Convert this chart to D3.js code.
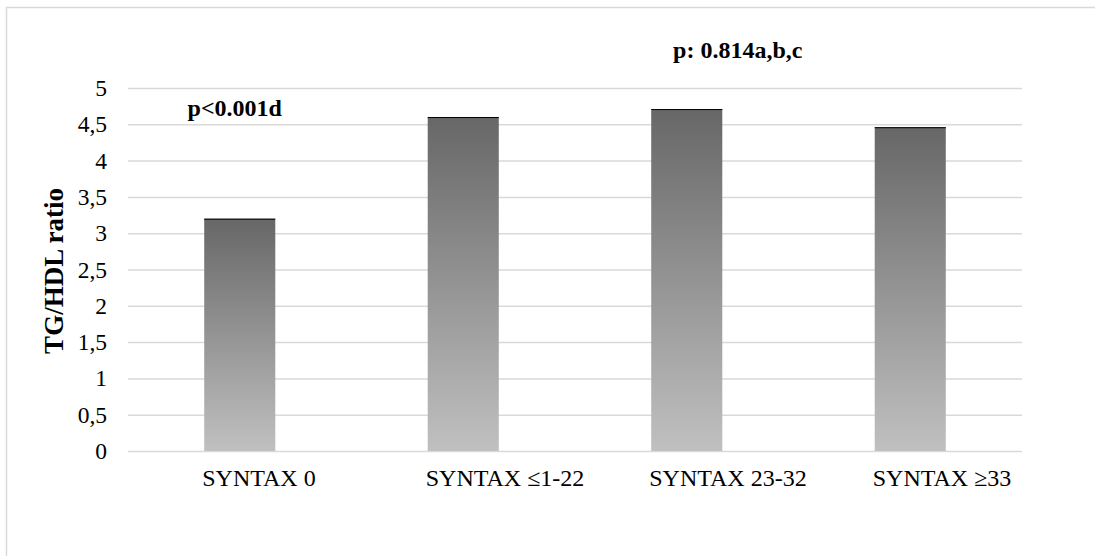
<!DOCTYPE html>
<html><head><meta charset="utf-8">
<script src="https://cdn.jsdelivr.net/npm/d3@7"></script>
<style>body{margin:0;background:#fff}svg{display:block}</style>
</head><body>
<script>
const categories = ["SYNTAX 0", "SYNTAX \u22641-22", "SYNTAX 23-32", "SYNTAX \u226533"];
const values = [3.2, 4.6, 4.71, 4.46];
const yTicks = [0, 0.5, 1, 1.5, 2, 2.5, 3, 3.5, 4, 4.5, 5];
const yTickLabels = ["0", "0,5", "1", "1,5", "2", "2,5", "3", "3,5", "4", "4,5", "5"];
const annotations = [
  {text: "p<0.001d", cat: 0, value: 4.62, dx: -5},
  {text: "p: 0.814a,b,c", cat: 2, value: 5.41, dx: 51}
];
const yTitle = "TG/HDL ratio";

const W = 1095, H = 556;
const margin = {left: 128, right: 1022, top: 88, bottom: 451};
const svg = d3.select("body").append("svg").attr("width", W).attr("height", H);
const font = "Liberation Serif";

svg.append("rect").attr("x", 6.5).attr("y", 7.5).attr("width", 1200).attr("height", 700)
  .attr("fill", "none").attr("stroke", "#d9d9d9").attr("stroke-width", 1.5);

const defs = svg.append("defs");
const grad = defs.append("linearGradient").attr("id", "barGrad")
  .attr("x1", 0).attr("y1", 0).attr("x2", 0).attr("y2", 1);
grad.append("stop").attr("offset", "0%").attr("stop-color", "#676767");
grad.append("stop").attr("offset", "100%").attr("stop-color", "#c0c0c0");

const x = d3.scaleBand().domain(categories).range([margin.left, margin.right]).paddingInner(0.682).paddingOuter(0.341);
const y = d3.scaleLinear().domain([0, 5]).range([margin.bottom, margin.top]);

// gridlines
const gy = svg.append("g").attr("transform", `translate(${margin.left},0)`)
  .call(d3.axisLeft(y).tickValues(yTicks).tickSize(-(margin.right - margin.left)).tickFormat((d, i) => yTickLabels[i]).tickPadding(21));
gy.attr("font-family", null).attr("font-size", null);
gy.select(".domain").remove();
gy.selectAll(".tick line").attr("stroke", "#d9d9d9").attr("stroke-width", 1.5);
gy.selectAll(".tick text").style("font-family", font).style("font-size", "23.5px").attr("fill", "#000");

// bars
svg.append("g").selectAll("rect").data(values).join("rect")
  .attr("x", (d, i) => x(categories[i]))
  .attr("y", d => y(d))
  .attr("width", x.bandwidth())
  .attr("height", d => y(0) - y(d))
  .attr("fill", "url(#barGrad)");
svg.append("g").selectAll("line").data(values).join("line")
  .attr("x1", (d, i) => x(categories[i]))
  .attr("x2", (d, i) => x(categories[i]) + x.bandwidth())
  .attr("y1", d => y(d) + 0.5).attr("y2", d => y(d) + 0.5)
  .attr("stroke", "#000").attr("stroke-width", 1);

// x axis labels (left-aligned near bar's left edge, as in the reference)
const gx = svg.append("g").attr("transform", `translate(0,${margin.bottom})`)
  .call(d3.axisBottom(x).tickSize(0).tickPadding(18));
gx.attr("font-family", null).attr("font-size", null);
gx.select(".domain").remove();
gx.selectAll(".tick text").style("font-family", font).style("font-size", "24px").attr("fill", "#000")
  .attr("text-anchor", "start").attr("x", -x.bandwidth() / 2 - 2);

// annotations
svg.append("g").selectAll("text").data(annotations).join("text")
  .attr("x", d => x(categories[d.cat]) + x.bandwidth() / 2 + d.dx)
  .attr("y", d => y(d.value))
  .attr("text-anchor", "middle")
  .style("font-family", font).style("font-weight", "bold").style("font-size", "24px")
  .text(d => d.text);

// y title
svg.append("text").attr("transform", "translate(63,271) rotate(-90)")
  .attr("text-anchor", "middle").style("font-family", font).style("font-weight", "bold")
  .style("font-size", "27px").text(yTitle);
</script>
</body></html>
